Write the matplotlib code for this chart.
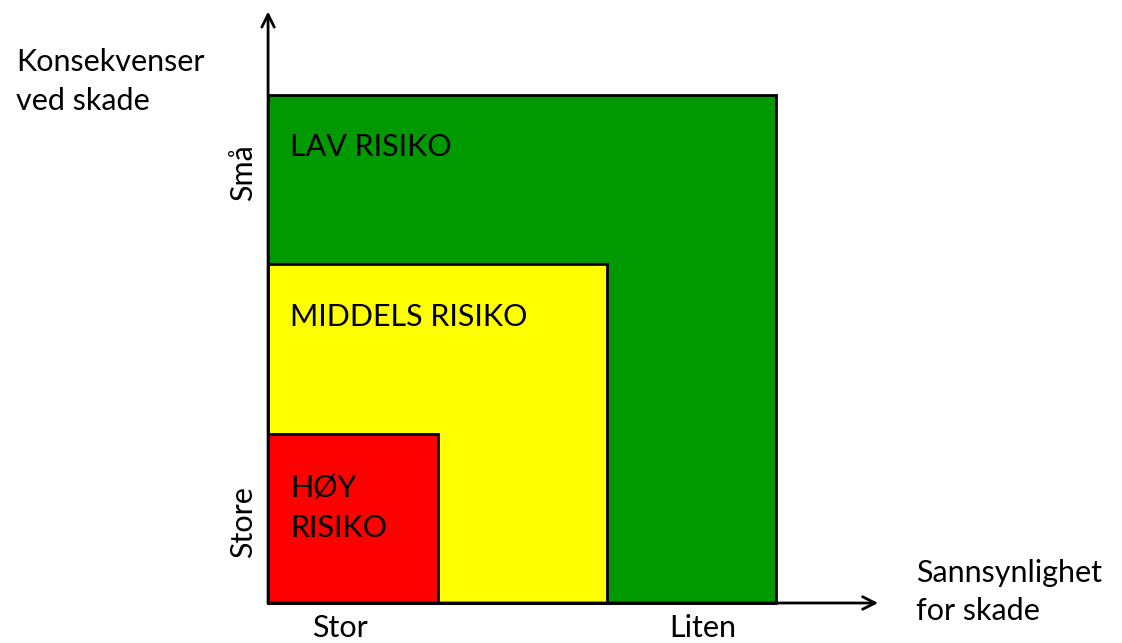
import matplotlib.pyplot as plt
from matplotlib.patches import Rectangle

plt.rcParams['font.family'] = ['Lato', 'DejaVu Sans']

# risk zones, drawn largest first
zones = ['LAV RISIKO', 'MIDDELS RISIKO', 'HØY\nRISIKO']
sizes = [3, 2, 1]
colors = ['#009900', '#ffff00', '#ff0000']

x_ticks = ['Stor', 'Liten']
x_tick_pos = [0.425, 2.566]
y_ticks = ['Små', 'Store']
y_tick_pos = [2.54, 0.478]

fig = plt.figure(figsize=(11.22, 6.43), dpi=100)
ax = fig.add_axes([0, 0, 1, 1])
ax.set_xlim(-1.581, 5.038)
ax.set_ylim(-0.236, 3.558)
ax.set_aspect('equal')
ax.axis('off')

for name, s, c in zip(zones, sizes, colors):
    ax.add_patch(Rectangle((0, 0), s, s, facecolor=c, edgecolor='black', lw=2, zorder=2))
    # baseline of the last line of the label
    nl = name.count('\n')
    ax.text(0.13, s - 0.365 - 0.245 * nl, name, fontsize=22, va='baseline', ha='left',
            linespacing=1.5, zorder=3)

# axes arrows
arrow = dict(arrowstyle='->,head_length=0.9,head_width=0.45', lw=2, color='black',
             shrinkA=0, shrinkB=0)
ax.annotate('', xy=(3.6, 0), xytext=(0, 0), arrowprops=arrow, zorder=4)
ax.annotate('', xy=(0, 3.49), xytext=(0, 0), arrowprops=arrow, zorder=4)

for lab, p in zip(x_ticks, x_tick_pos):
    ax.text(p, -0.15, lab, fontsize=22, ha='center', va='center')
for lab, p in zip(y_ticks, y_tick_pos):
    ax.text(-0.147, p, lab, fontsize=22, ha='center', va='center', rotation=90)

ax.text(3.823, -0.1, 'Sannsynlighet\nfor skade', fontsize=22, ha='left', va='baseline',
        linespacing=1.45)
ax.text(-1.487, 2.91, 'Konsekvenser\nved skade', fontsize=22, ha='left', va='baseline',
        linespacing=1.45)

fig.savefig('out.png', dpi=100)
